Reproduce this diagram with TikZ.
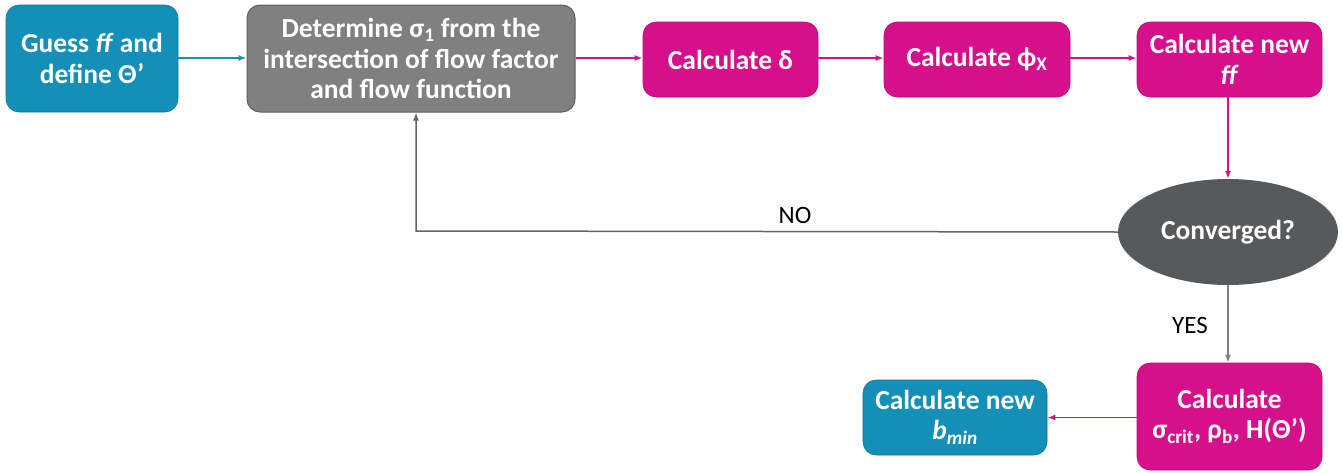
\documentclass[tikz,border=0pt]{standalone}
\usepackage{fontspec}
\setmainfont{Carlito}
\usetikzlibrary{shapes.geometric,arrows.meta}
\definecolor{teal}{RGB}{20,144,184}
\definecolor{mag}{RGB}{213,16,138}
\definecolor{boxgray}{RGB}{128,128,128}
\definecolor{boxgrayb}{RGB}{96,96,96}
\definecolor{ellgray}{RGB}{88,89,91}
\definecolor{arrgray}{RGB}{128,128,128}
\definecolor{arrgrayd}{RGB}{100,100,100}
\tikzset{
  box/.style={rounded corners=13pt, align=center, text=white, font=\fontsize{27.5}{30.5}\selectfont\bfseries, inner sep=0pt},
  tealbox/.style={box, fill=teal, draw=teal!80!black, line width=0.6pt},
  magbox/.style={box, fill=mag, draw=mag!85!black, line width=0.6pt},
  graybox/.style={box, fill=boxgray, draw=boxgrayb, line width=1pt},
  conn/.style={line width=1.5pt, -{Latex[length=8pt,width=6pt]}},
  lbl/.style={font=\fontsize{25}{28}\selectfont, text=black}
}
\begin{document}
\begin{tikzpicture}[x=1pt,y=-1pt]
\useasboundingbox (0,0) rectangle (1342,472);
\node[tealbox, minimum width=172pt, minimum height=107pt] (guess) at (92,58.5) {Guess \textit{ff} and\\define Θ’};
\node[graybox, minimum width=328pt, minimum height=107pt] (det) at (411,58.5) {Determine σ\textsubscript{1} from the\\intersection of flow factor\\and flow function};
\node[magbox, minimum width=175pt, minimum height=75pt] (delta) at (730.5,59.5) {Calculate δ};
\node[magbox, minimum width=186pt, minimum height=75pt] (phi) at (977,59.5) {Calculate ϕ\textsubscript{X}};
\node[magbox, minimum width=185pt, minimum height=75pt] (ff) at (1229.5,59.5) {Calculate new\\\textit{ff}};
\node[ellipse, fill=ellgray, minimum width=220pt, minimum height=106pt, inner sep=0pt, text=white, font=\fontsize{27.5}{30.5}\selectfont\bfseries] (conv) at (1228,232) {Converged?};
\node[magbox, minimum width=185pt, minimum height=107pt] (crit) at (1229.5,416.5) {Calculate\\σ\textsubscript{crit}, ρ\textsubscript{b}, H(Θ’)};
\node[tealbox, minimum width=184pt, minimum height=75pt] (bmin) at (955,417.5) {Calculate new\\\textit{b\textsubscript{min}}};
\coordinate (corner) at (416,231);
\draw[conn, teal] (guess.east |- 0,58) -- (det.west |- 0,58);
\draw[conn, mag] (det.east |- 0,58) -- (delta.west |- 0,58);
\draw[conn, mag] (delta.east |- 0,58) -- (phi.west |- 0,58);
\draw[conn, mag] (phi.east |- 0,58) -- (ff.west |- 0,58);
\draw[conn, mag] (ff.south -| conv.north) -- (conv.north);
\draw[conn, arrgray] (conv.south) -- (crit.north -| conv.south);
\draw[conn, arrgrayd] (conv.west) -- (corner) -- (det.south -| corner);
\draw[conn, mag] (crit.west |- bmin.east) -- (bmin.east);
\node[lbl] (no) at (795,215) {NO};
\node[lbl] (yes) at (1190,325) {YES};
\end{tikzpicture}
\end{document}
